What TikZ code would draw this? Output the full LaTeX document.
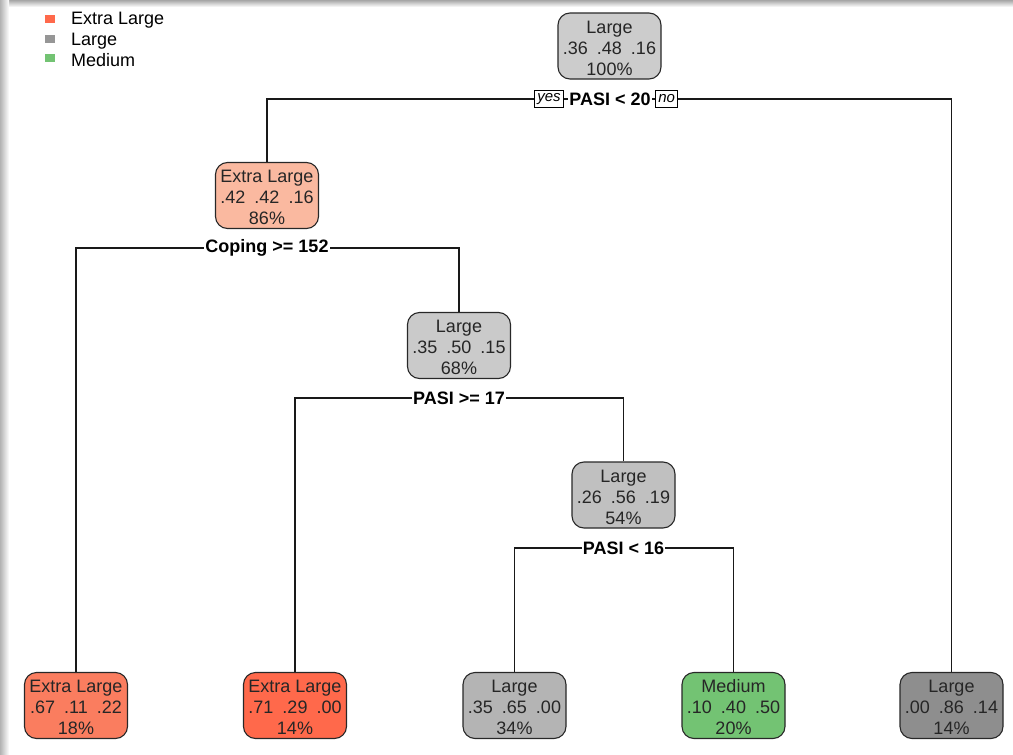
\documentclass[tikz,border=0pt]{standalone}
\usepackage{fontspec}
\setmainfont{Liberation Sans}
\usetikzlibrary{shadings}
\definecolor{cRoot}{RGB}{204,204,204}
\definecolor{cNtwo}{RGB}{250,185,160}
\definecolor{cNthree}{RGB}{202,202,202}
\definecolor{cNfour}{RGB}{192,192,192}
\definecolor{cLone}{RGB}{250,125,95}
\definecolor{cLtwo}{RGB}{255,105,75}
\definecolor{cLthree}{RGB}{180,180,180}
\definecolor{cLfour}{RGB}{115,195,115}
\definecolor{cLfive}{RGB}{142,142,142}
\definecolor{cLegL}{RGB}{150,150,150}
\definecolor{cEdge}{RGB}{40,40,40}
\newcommand\ntxt[3]{\rule{0pt}{17pt}#1\\#2\\#3}
\tikzset{
  treenode/.style={draw=cEdge, line width=1.1pt, rounded corners=12pt,
    minimum width=103pt, minimum height=66pt, inner sep=0pt,
    align=center, font=\fontsize{18}{21}\selectfont, text=black!85},
  splitlabel/.style={fill=white, inner sep=1pt, font=\bfseries\fontsize{18}{20}\selectfont},
  yesno/.style={draw=black, fill=white, line width=0.9pt, inner xsep=3pt, inner ysep=0pt,
    minimum height=17pt, font=\itshape\fontsize{15}{16}\selectfont},
  conn/.style={line width=1.1pt, black!90},
  legsq/.style={inner sep=0pt, minimum width=10pt, minimum height=8pt},
  legtxt/.style={anchor=west, inner sep=0pt, font=\fontsize{18}{20}\selectfont}
}
\begin{document}
\begin{tikzpicture}[x=1pt,y=-1pt]
\useasboundingbox (0,0) rectangle (1013,755);
\fill[white] (0,0) rectangle (1013,755);
% screenshot shadow frame
\shade[top color=black!35, bottom color=white] (0,0) rectangle (1013,7);
\shade[left color=black!30, right color=white] (0,0) rectangle (9,755);

% legend
\node[legsq, fill=cLtwo] (lg1) at (50,19) {};
\node[legtxt] (lt1) at (71,20) {Extra Large};
\node[legsq, fill=cLegL] (lg2) at (50,39) {};
\node[legtxt] (lt2) at (71,41) {Large};
\node[legsq, fill=cLfour] (lg3) at (50,58) {};
\node[legtxt] (lt3) at (71,60) {Medium};

% nodes
\node[treenode, fill=cRoot] (root) at (609.5,46) {\ntxt{Large}{.36\enspace.48\enspace.16}{100\%}};
\node[treenode, fill=cNtwo] (n2) at (267,195.5) {\ntxt{Extra Large}{.42\enspace.42\enspace.16}{86\%}};
\node[treenode, fill=cNthree] (n3) at (459,345.5) {\ntxt{Large}{.35\enspace.50\enspace.15}{68\%}};
\node[treenode, fill=cNfour] (n4) at (623.5,495) {\ntxt{Large}{.26\enspace.56\enspace.19}{54\%}};
\node[treenode, fill=cLone] (l1) at (76,705.5) {\ntxt{Extra Large}{.67\enspace.11\enspace.22}{18\%}};
\node[treenode, fill=cLtwo] (l2) at (295,705.5) {\ntxt{Extra Large}{.71\enspace.29\enspace.00}{14\%}};
\node[treenode, fill=cLthree] (l3) at (514.5,705.5) {\ntxt{Large}{.35\enspace.65\enspace.00}{34\%}};
\node[treenode, fill=cLfour] (l4) at (733.5,705.5) {\ntxt{Medium}{.10\enspace.40\enspace.50}{20\%}};
\node[treenode, fill=cLfive] (l5) at (951.5,705.5) {\ntxt{Large}{.00\enspace.86\enspace.14}{14\%}};

% split points
\coordinate (s1) at (610,99);
\coordinate (s2) at (267,248);
\coordinate (s3) at (459,398);
\coordinate (s4) at (623.5,548);

% connectors
\draw[conn] (n2.north) |- (s1) -| (l5.north);
\draw[conn] (l1.north) |- (s2) -| (n3.north);
\draw[conn] (l2.north) |- (s3) -| (n4.north);
\draw[conn] (l3.north) |- (s4) -| (l4.north);

% split labels
\node[splitlabel] (t1) at (s1) {PASI < 20};
\node[yesno, anchor=east] (yes) at ([xshift=-4pt]t1.west) {yes};
\node[yesno, anchor=west] (no) at ([xshift=3pt]t1.east) {no};
\node[splitlabel] (t2) at (s2) {Coping >= 152};
\node[splitlabel] (t3) at (s3) {PASI >= 17};
\node[splitlabel] (t4) at (s4) {PASI < 16};
\end{tikzpicture}
\end{document}
